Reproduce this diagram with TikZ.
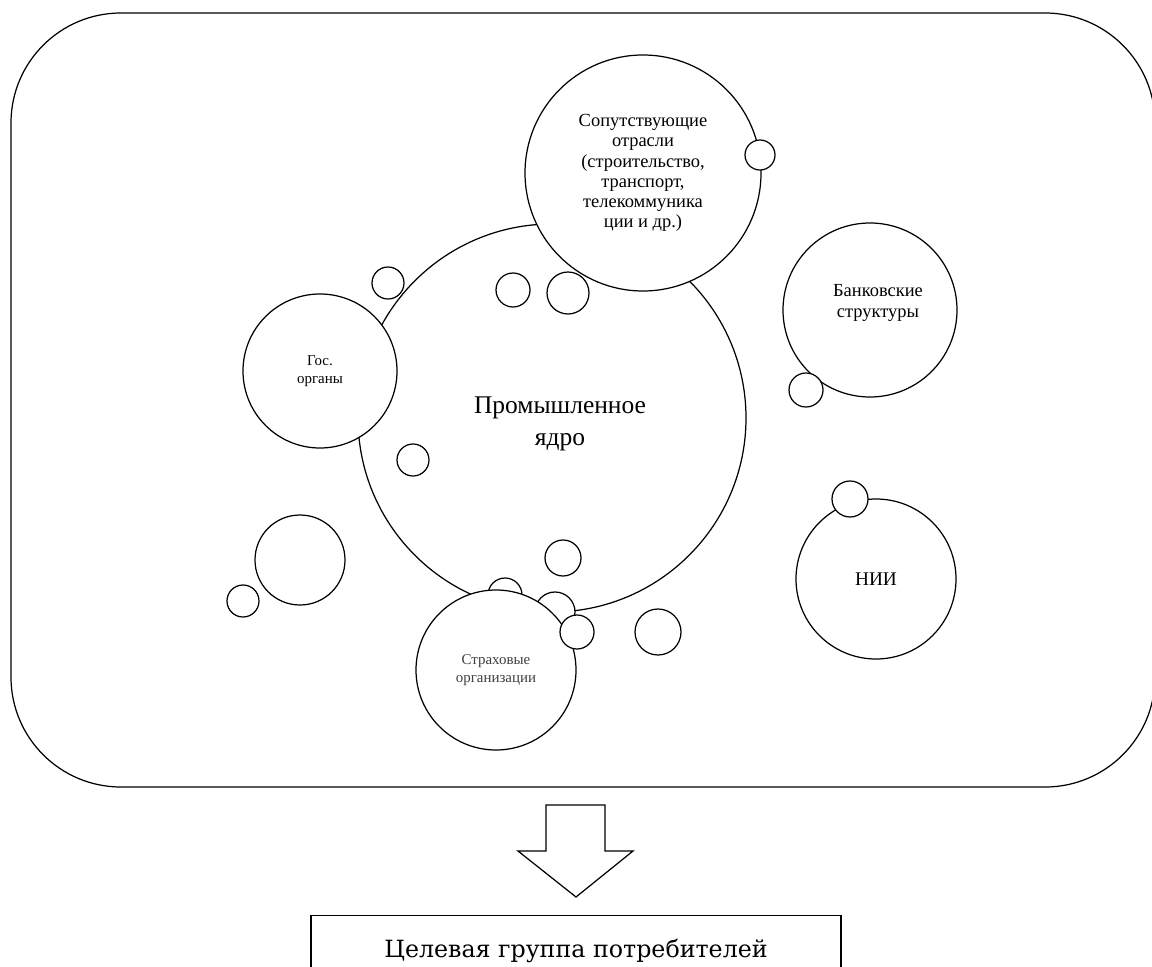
\documentclass[tikz,border=0pt]{standalone}
\usepackage{fontspec}
\setmainfont{Liberation Serif}
\newfontfamily\slabfont{DejaVu Serif}
\begin{document}
\begin{tikzpicture}[x=0.2mm, y=-0.2mm, line width=0.7pt,
    bub/.style = {draw, circle, fill=white, inner sep=0pt, minimum size=#1*0.4mm},
    small/.style = {font=\fontsize{8.5}{10}\selectfont, align=center},
    mid/.style = {font=\fontsize{10.5}{11.5}\selectfont, align=center}]

	\useasboundingbox (0,0) rectangle (1152,967);

	\node[draw, rounded corners=22mm, inner sep=0pt, minimum width=228.8mm, minimum height=154.8mm] (frame) at (583,400) {};

	\node[bub=194] (core) at (552,418) {};
	\node[font=\fontsize{14.5}{18}\selectfont, align=center] (coretext) at (560,424) {Промышленное\\ядро};

	\node[bub=16] (a1) at (388,283) {};
	\node[bub=17] (a2) at (513,290) {};
	\node[bub=21] (a3) at (568,293) {};
	\node[bub=16] (a4) at (413,460) {};
	\node[bub=18] (a5) at (563,558) {};
	\node[bub=23] (a6) at (658,632) {};
	\node[bub=45] (a7) at (300,560) {};
	\node[bub=16] (a8) at (243,601) {};
	\node[bub=17] (a9) at (505,595) {};
	\node[bub=20] (a10) at (555,612) {};

	\node[bub=118, mid] (sop) at (643,173) {Сопутствующие\\отрасли\\(строительство,\\транспорт,\\телекоммуника\\ции и др.)};
	\node[bub=15] (b1) at (760,155) {};

	\node[bub=77, small] (gos) at (320,371) {Гос.\\органы};

	\node[bub=87] (bank) at (870,310) {};
	\node[mid] (banktext) at (878,303) {Банковские\\структуры};
	\node[bub=17] (b2) at (806,390) {};

	\node[bub=80, font=\fontsize{11}{12}\selectfont] (nii) at (876,579) {НИИ};
	\node[bub=18] (b3) at (850,499) {};

	\node[bub=80, small, text=black!75] (strah) at (496,670) {Страховые\\организации};
	\node[bub=17] (b4) at (577,632) {};

	% стрелка вниз
	\draw (546,805) -- (605,805) -- (605,851) -- (633,851) -- (576,897)
		-- (518,851) -- (546,851) -- cycle;

	\node[draw, anchor=north, inner sep=0pt, minimum width=106mm, minimum height=14mm,
		font=\slabfont\fontsize{13.5}{16}\selectfont] (target) at (576,915) {Целевая группа потребителей};
\end{tikzpicture}
\end{document}
